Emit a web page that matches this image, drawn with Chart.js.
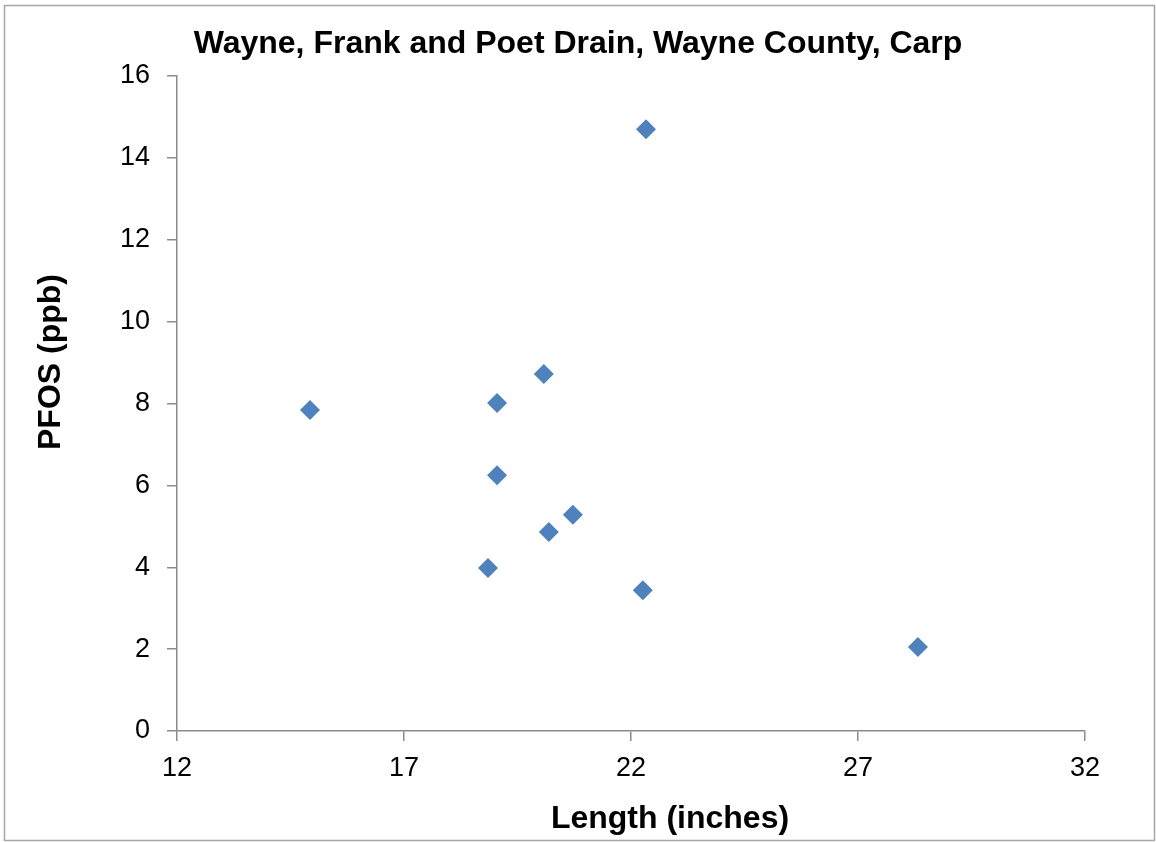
<!DOCTYPE html>
<html>
<head>
<meta charset="utf-8">
<script src="https://cdn.jsdelivr.net/npm/chart.js@4"></script>
<style>
  html, body { margin: 0; padding: 0; background: #ffffff; }
  #wrap { position: relative; width: 1156px; height: 842px; }
</style>
</head>
<body>
<div id="wrap"><canvas id="carp-chart"></canvas></div>
<script>
// 데이터
const lengthInches = [14.93, 19.05, 20.08, 22.33, 19.05, 20.72, 20.19, 18.85, 22.26, 28.32];
const pfosPpb      = [7.84, 8.01, 8.72, 14.70, 6.25, 5.28, 4.86, 3.98, 3.44, 2.05];
const xTicks = [12, 17, 22, 27, 32];
const yTicks = [0, 2, 4, 6, 8, 10, 12, 14, 16];

const chartTitle = 'Wayne, Frank and Poet Drain, Wayne County, Carp';
const xTitle = 'Length (inches)';
const yTitle = 'PFOS (ppb)';

const fontFamily = '"Liberation Sans", Arial, sans-serif';
const axisColor = '#8c8c8c';
const markerColor = '#4f81bd';

// 바깥 테두리와 축 제목 그리기, 제목은 전체 폭 기준 가운데 정렬
const frameAndTitles = {
  id: 'frameAndTitles',
  afterLayout(chart) {
    const tb = chart.titleBlock;
    if (tb) {
      tb.left = 0;
      tb.right = chart.width;
      tb.width = chart.width;
    }
  },
  afterDraw(chart) {
    const ctx = chart.ctx;
    ctx.save();
    ctx.strokeStyle = '#a6a6a6';
    ctx.lineWidth = 1.5;
    ctx.strokeRect(4.5, 5.5, 1150, 835);

    ctx.fillStyle = '#000000';
    ctx.font = 'bold 32px ' + fontFamily;
    ctx.textAlign = 'center';
    ctx.textBaseline = 'middle';
    ctx.fillText(xTitle, 670, 819);

    ctx.translate(51, 362);
    ctx.rotate(-Math.PI / 2);
    ctx.fillText(yTitle, 0, 0);
    ctx.restore();
  }
};

const points = lengthInches.map((x, i) => ({ x: x, y: pfosPpb[i] }));

new Chart(document.getElementById('carp-chart').getContext('2d'), {
  type: 'scatter',
  data: {
    datasets: [{
      label: 'Carp',
      data: points,
      pointStyle: 'rectRot',
      pointRadius: 10,
      pointHoverRadius: 10,
      backgroundColor: markerColor,
      borderColor: markerColor,
      borderWidth: 0,
    }]
  },
  options: {
    responsive: true,
    maintainAspectRatio: false,
    animation: false,
    layout: {
      padding: { top: 0, right: 71, bottom: 0, left: 0 }
    },
    plugins: {
      legend: { display: false },
      tooltip: { enabled: false },
      title: {
        display: true,
        text: chartTitle,
        color: '#000000',
        font: { family: fontFamily, size: 32, weight: 'bold', lineHeight: 1.2 },
        padding: { top: 25, bottom: 12.6 },
      },
    },
    scales: {
      x: {
        type: 'linear',
        min: 12,
        max: 32,
        afterFit: (scale) => { scale.height = 111; },
        afterBuildTicks: (scale) => { scale.ticks = xTicks.map(v => ({ value: v })); },
        ticks: {
          color: '#000000',
          font: { family: fontFamily, size: 27 },
          padding: 11,
          maxRotation: 0,
        },
        grid: {
          drawOnChartArea: false,
          drawTicks: true,
          tickLength: 10,
          color: axisColor,
          lineWidth: 1.5,
        },
        border: { color: axisColor, width: 1.5 },
      },
      y: {
        type: 'linear',
        min: 0,
        max: 16,
        afterFit: (scale) => { scale.width = 177; },
        afterBuildTicks: (scale) => { scale.ticks = yTicks.map(v => ({ value: v })); },
        ticks: {
          color: '#000000',
          font: { family: fontFamily, size: 27 },
          padding: 17,
        },
        grid: {
          drawOnChartArea: false,
          drawTicks: true,
          tickLength: 10,
          color: axisColor,
          lineWidth: 1.5,
        },
        border: { color: axisColor, width: 1.5 },
      },
    },
  },
  plugins: [frameAndTitles],
});
</script>
</body>
</html>
